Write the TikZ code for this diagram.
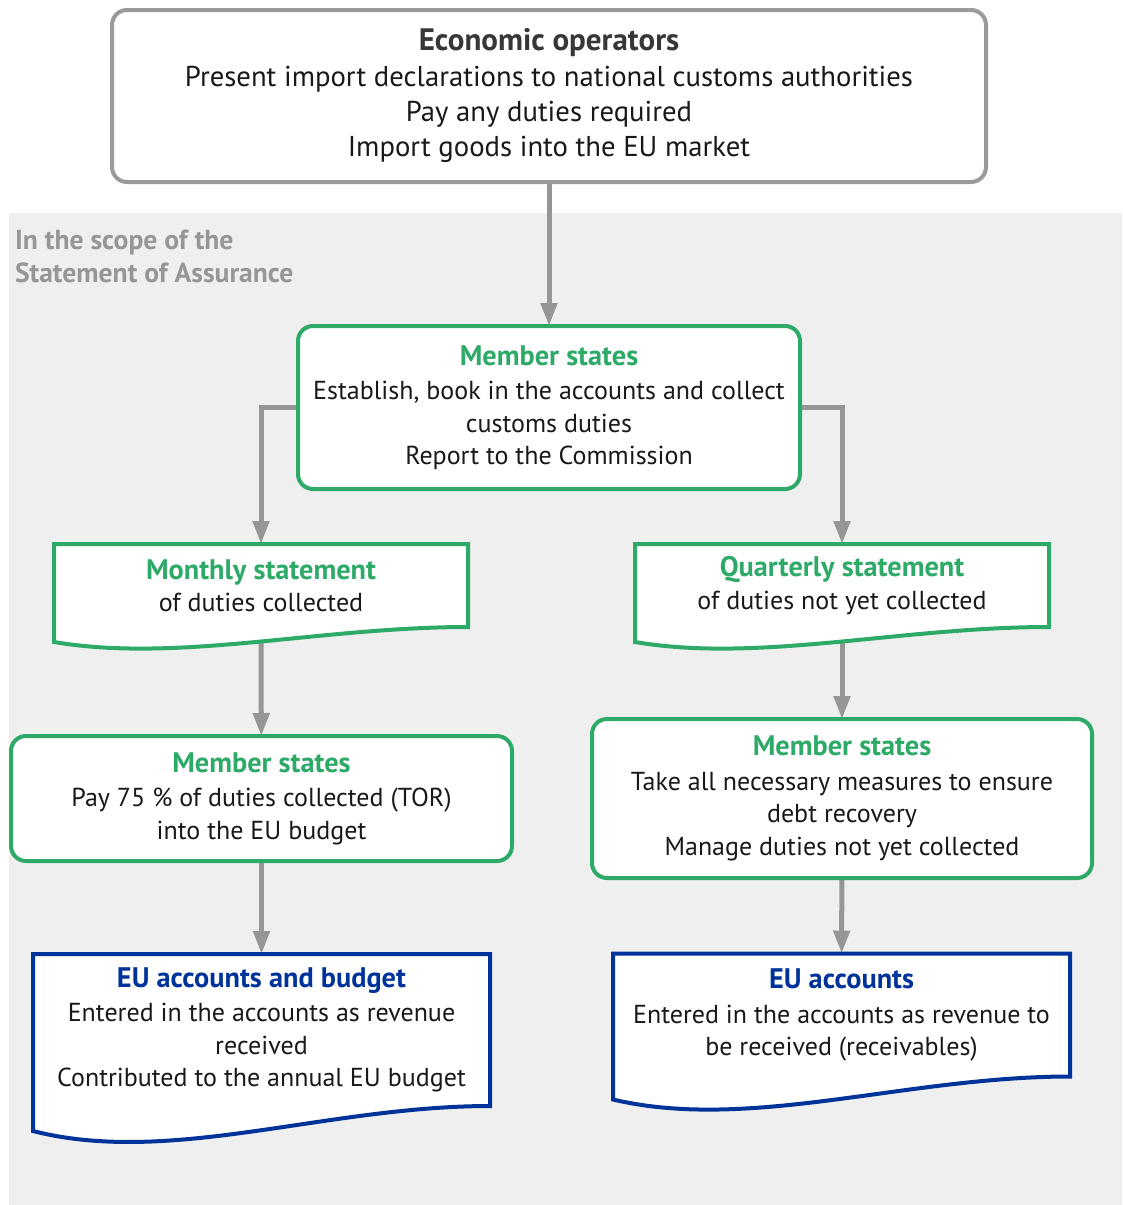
\documentclass[tikz,border=0pt]{standalone}
\usepackage{fontspec}
\setmainfont{PT Sans}
\usepackage{tikz}
\usetikzlibrary{arrows.meta, calc, backgrounds}
\definecolor{msgreen}{RGB}{46, 170, 104}
\definecolor{eublue}{RGB}{0, 51, 153}
\definecolor{framegray}{RGB}{154, 154, 154}
\definecolor{flowgray}{RGB}{150, 150, 150}
\definecolor{scopegray}{RGB}{150, 150, 150}
\definecolor{panelgray}{RGB}{239, 239, 239}
\definecolor{headgray}{RGB}{55, 55, 55}

% bold coloured heading line inside a box
\newcommand{\boxtitle}[2]{{\fontsize{28.3}{32.5}\selectfont\bfseries\color{#1}#2}}

% document outline with a wavy lower edge, drawn behind the text
\newcommand{\docframe}[3]{%
  \begin{scope}[on background layer]
    \draw[docline, draw=#2] let \p1=(#1.south west), \p2=(#1.south east), \n1={\x2-\x1} in
      (#1.north west) -- (#1.north east) -- (#1.south east)
      .. controls ({\x2-0.36*\n1}, {\y2}) and ({\x1+0.3*\n1}, {\y1-2.4*#3pt}) .. ({\x1}, {\y1-#3pt})
      -- cycle;
  \end{scope}}

\begin{document}
\begin{tikzpicture}[
    x=1pt, y=1pt,
    every node/.style={font=\fontsize{26}{32.5}\selectfont, text=black!90, inner sep=0pt, outer sep=0pt},
    actor/.style={draw=framegray, line width=4pt, rounded corners=15pt, fill=white, align=center,
      font=\fontsize{28.7}{35}\selectfont},
    msbox/.style={draw=msgreen, line width=4pt, rounded corners=15pt, fill=white, align=center},
    doc/.style={align=center},
    docline/.style={line width=4pt, fill=white, line join=miter},
    flow/.style={draw=flowgray, line width=5pt, -{Triangle[length=23pt, width=16pt]}},
]
    \useasboundingbox (0,0) rectangle (1122,-1205);

    % Scope panel
    \begin{scope}[on background layer]
      \fill[panelgray] (9,-213) rectangle (1122,-1205);
    \end{scope}
    \node[anchor=north west, align=left, text=scopegray, font=\fontsize{27.6}{32.5}\selectfont\bfseries] (scope) at (15,-230)
      {In the scope of the\\Statement of Assurance};

    % Economic operators
    \node[actor, minimum width=874, minimum height=172] (econ) at (549,-96)
      {{\fontsize{31}{35}\selectfont\bfseries\color{headgray}Economic operators}\\[1pt]
       Present import declarations to national customs authorities\\
       Pay any duties required\\
       Import goods into the EU market};

    % Member states
    \node[msbox, minimum width=502, minimum height=163] (ms) at (549,-407.5)
      {\boxtitle{msgreen}{Member states}\\[2pt]
       Establish, book in the accounts and collect\\
       customs duties\\
       Report to the Commission};

    % Statements
    \node[doc, minimum width=414, minimum height=83] (monthly) at (261,-585.5)
      {\boxtitle{msgreen}{Monthly statement}\\
       of duties collected};
    \node[doc, minimum width=414, minimum height=83] (quarterly) at (842,-585.5)
      {\boxtitle{msgreen}{Quarterly statement}\\
       of duties not yet collected};

    % Member states, second row
    \node[msbox, minimum width=501, minimum height=125] (mspay) at (261.5,-798.5)
      {\boxtitle{msgreen}{Member states}\\[2pt]
       Pay 75 \% of duties collected (TOR)\\
       into the EU budget};
    \node[msbox, minimum width=500, minimum height=159] (msrecover) at (842,-798.5)
      {\boxtitle{msgreen}{Member states}\\[2pt]
       Take all necessary measures to ensure\\
       debt recovery\\
       Manage duties not yet collected};

    % EU accounts
    \node[doc, minimum width=457, minimum height=152] (eubudget) at (261.5,-1030)
      {\boxtitle{eublue}{EU accounts and budget}\\[2pt]
       Entered in the accounts as revenue\\
       received\\
       Contributed to the annual EU budget};
    \node[doc, minimum width=457, minimum height=123] (euaccounts) at (841.5,-1015)
      {\boxtitle{eublue}{EU accounts}\\[2pt]
       Entered in the accounts as revenue to\\
       be received (receivables)};

    % Flows
    \begin{scope}[on background layer]
      \draw[flow] (econ) -- (ms);
      \draw[flow] (ms.west) -| (monthly.north);
      \draw[flow] (ms.east) -| (quarterly.north);
      \draw[flow] (monthly.south) -- (mspay);
      \draw[flow] (quarterly.south) -- (msrecover);
      \draw[flow] (mspay) -- (eubudget);
      \draw[flow] (msrecover) -- (euaccounts);
    \end{scope}

    % Document outlines
    \docframe{monthly}{msgreen}{15}
    \docframe{quarterly}{msgreen}{15}
    \docframe{eubudget}{eublue}{25}
    \docframe{euaccounts}{eublue}{23}
\end{tikzpicture}
\end{document}
